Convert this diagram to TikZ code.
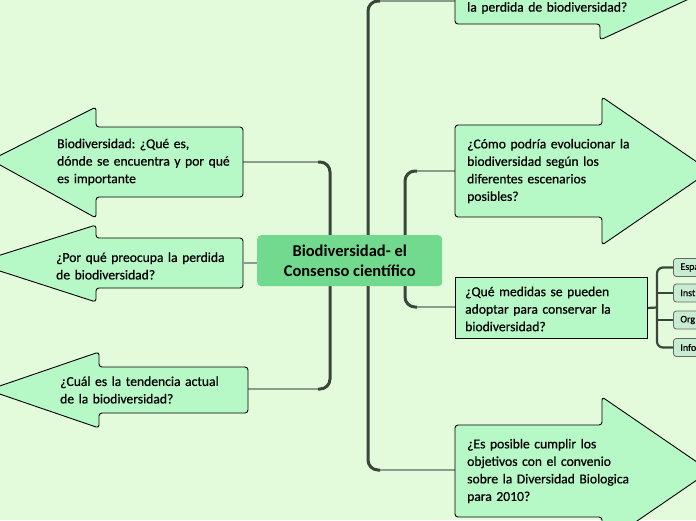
\documentclass[tikz,border=0pt]{standalone}
\usepackage{fontspec}
\setmainfont{Carlito}
\definecolor{bg}{RGB}{227,251,219}
\definecolor{nodefill}{RGB}{183,248,199}
\definecolor{centerfill}{RGB}{114,218,142}
\definecolor{smallfill}{RGB}{200,236,210}
\definecolor{trunkcol}{RGB}{58,70,60}
\definecolor{twigcol}{RGB}{140,156,140}
\frenchspacing
\begin{document}
\begin{tikzpicture}[x=1pt,y=-1pt,
  arrowshape/.style={draw=black, line width=0.9pt, fill=nodefill, rounded corners=3pt},
  txt/.style={anchor=west, align=left, inner sep=0pt, text width=200pt, font=\fontsize{13.6}{17.5}\selectfont\addfontfeature{FakeBold=0.6}, text=black},
  trunk/.style={draw=trunkcol, line width=3pt, rounded corners=10pt},
  twig/.style={draw=twigcol, line width=1.2pt},
  smallnode/.style={draw=trunkcol!80, line width=0.8pt, fill=smallfill, rounded corners=3pt, minimum height=18pt, text width=46pt, align=left, anchor=west, inner xsep=7pt, inner ysep=0pt, font=\fontsize{10}{11}\selectfont\addfontfeature{FakeBold=0.4}},
]
\useasboundingbox (0,0) rectangle (696,520);
\fill[bg] (0,0) rectangle (696,520);

% anchor coordinates of node edges
\coordinate (L1e) at (243,162);
\coordinate (L2e) at (243,263);
\coordinate (L3e) at (248,389);
\coordinate (R0w) at (455,1);
\coordinate (R1w) at (455,171);
\coordinate (R2w) at (455,307);
\coordinate (R3w) at (455,470);

% trunks
\draw[trunk] (318,162) -- (330,162) -- (330,389) -- (318,389);
\draw[trunk] (380,1) -- (368,1) -- (368,470) -- (380,470);
\draw[trunk] (417,171) -- (405,171) -- (405,307) -- (417,307);
\draw[twig] (L1e) -- (318,162);
\draw[twig] (L3e) -- (318,389);
\draw[twig] (380,1) -- (R0w);
\draw[twig] (417,171) -- (R1w);
\draw[twig] (417,307) -- (R2w);
\draw[twig] (380,470) -- (R3w);

% left arrows
\draw[arrowshape] (-9,160) -- (96,107) -- (96,127) -- (243,127) -- (243,197) -- (96,197) -- (96,218) -- cycle;
\node[txt] (t1) at (57,162) {Biodiversidad: ¿Qué es,\\dónde se encuentra y por qué\\es importante};

\draw[arrowshape] (-25,263) -- (96,225) -- (96,238) -- (243,238) -- (243,288) -- (96,288) -- (96,302) -- cycle;
\node[txt] (t2) at (56,266) {¿Por qué preocupa la perdida\\de biodiversidad?};

\draw[arrowshape] (-12,390) -- (99,352) -- (99,367) -- (248,367) -- (248,413) -- (99,413) -- (99,428) -- cycle;
\node[txt] (t3) at (60,390) {¿Cuál es la tendencia actual\\de la biodiversidad?};

% right arrows
\draw[arrowshape] (455,-80) -- (600,-80) -- (600,-110) -- (730,-20) -- (600,40) -- (600,24) -- (455,24) -- cycle;
\node[txt] (r0) at (467,8) {la perdida de biodiversidad?};

\draw[arrowshape] (455,125) -- (602,125) -- (602,97) -- (710,171) -- (602,245) -- (602,217) -- (455,217) -- cycle;
\node[txt] (r1) at (467,171) {¿Cómo podría evolucionar la\\biodiversidad según los\\diferentes escenarios\\posibles?};

\draw[arrowshape] (455,425) -- (602,425) -- (602,397) -- (710,471) -- (602,545) -- (602,517) -- (455,517) -- cycle;
\node[txt] (r3) at (467,471) {¿Es posible cumplir los\\objetivos con el convenio\\sobre la Diversidad Biologica\\para 2010?};

% rectangle node
\node[draw=black, line width=0.9pt, fill=nodefill, anchor=north west, minimum width=192pt, minimum height=61pt, inner sep=0pt] (r2box) at (455,277) {};
\node[txt] (r2) at (465,309) {¿Qué medidas se pueden\\adoptar para conservar la\\biodiversidad?};

% sub branches
\node[smallnode] (s1) at (673,267.5) {Espa};
\node[smallnode] (s2) at (673,293) {Inst};
\node[smallnode] (s3) at (673,320) {Org};
\node[smallnode] (s4) at (673,347.5) {Info};
\draw[draw=trunkcol, line width=2.2pt] (r2box.east) -- (657,307.5);
\draw[draw=trunkcol, line width=2.2pt, rounded corners=6pt] (s1.west) -- (657,267.5) -- (657,347.5) -- (s4.west);
\draw[draw=trunkcol, line width=1.6pt] (657,293) -- (s2.west);
\draw[draw=trunkcol, line width=1.6pt] (657,320) -- (s3.west);

% center
\draw[twig] (L2e) -- (257,263);
\node[fill=centerfill, rounded corners=4pt, minimum width=185pt, minimum height=51pt, anchor=north west, inner sep=0pt, align=center, font=\bfseries\fontsize{16.5}{20}\selectfont] (c) at (257,235) {Biodiversidad- el\\Consenso científico};
\end{tikzpicture}
\end{document}
